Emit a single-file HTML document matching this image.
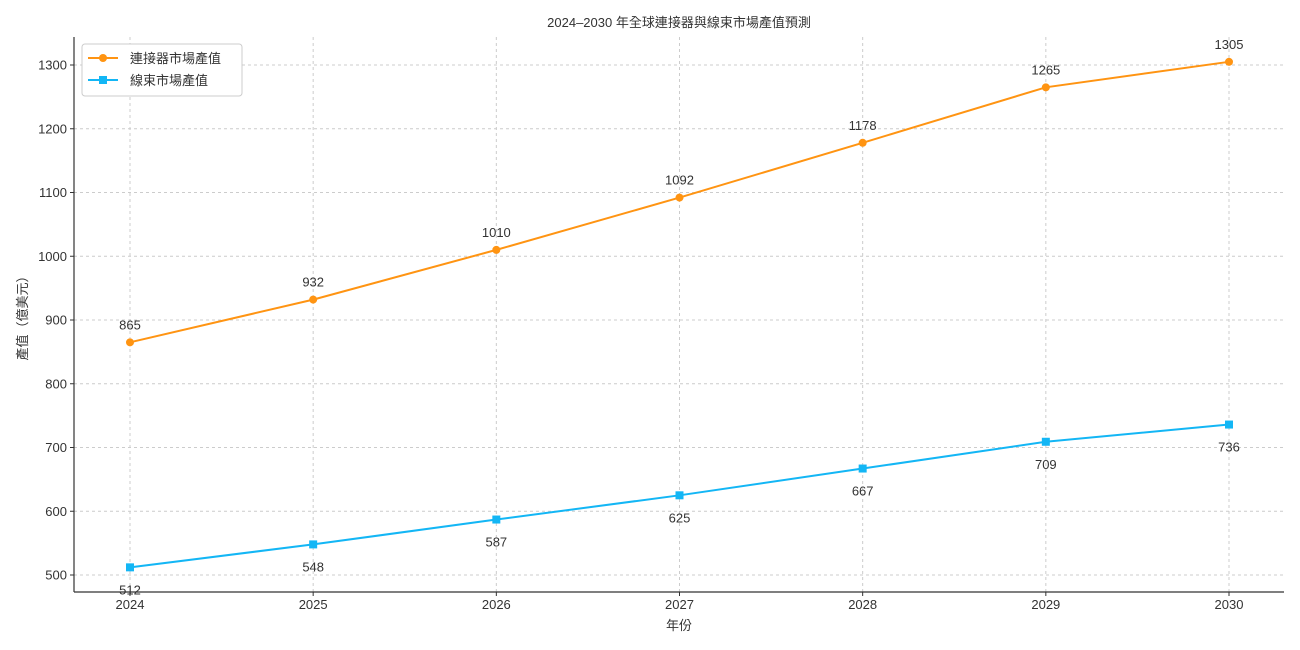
<!DOCTYPE html>
<html><head><meta charset="utf-8"><style>
body{margin:0;background:#fff;}
svg{display:block;font-family:"Liberation Sans","Noto Sans CJK TC",sans-serif;}
</style></head><body>
<svg id="chart" width="1300" height="650">
<text x="679" y="27" font-size="13" text-anchor="middle" fill="#333">2024–2030 年全球連接器與線束市場產值預測</text>
<g id="grid"></g><g id="axes"></g><g id="series"></g>
<text x="679" y="630" font-size="13" text-anchor="middle" fill="#333">年份</text>
<text transform="translate(27,315) rotate(-90)" font-size="13" text-anchor="middle" fill="#333">產值（億美元）</text>
<g>
<rect x="82" y="44" width="160" height="52" fill="#fff" stroke="#ccc" rx="3"/>
<g><line x1="88" y1="58" x2="118" y2="58" stroke="#ff9412" stroke-width="2"/><circle cx="103" cy="58" r="4" fill="#ff9412"/><text x="130" y="63" font-size="13" fill="#333">連接器市場產值</text></g>
<g><line x1="88" y1="80" x2="118" y2="80" stroke="#13b6f5" stroke-width="2"/><rect x="99" y="76" width="8" height="8" fill="#13b6f5"/><text x="130" y="85" font-size="13" fill="#333">線束市場產值</text></g>
</g>
</svg>
<script>
const years=[2024,2025,2026,2027,2028,2029,2030];
const connector=[865,932,1010,1092,1178,1265,1305];
const harness=[512,548,587,625,667,709,736];
const yTicks=[500,600,700,800,900,1000,1100,1200,1300];
const NS="http://www.w3.org/2000/svg";
const xS=i=>130+i*(1229-130)/6;
const yS=v=>575-(v-500)*(575-65)/800;
function mk(tag,attrs,parent,text){const e=document.createElementNS(NS,tag);for(const k in attrs)e.setAttribute(k,attrs[k]);if(text!==undefined)e.textContent=text;parent.appendChild(e);return e;}
const grid=document.getElementById('grid'),axes=document.getElementById('axes'),ser=document.getElementById('series');
years.forEach((y,i)=>{
 const g=mk('line',{x1:xS(i),x2:xS(i),y1:37,y2:592,stroke:'#ccc','stroke-dasharray':'3,3'},grid);
 
 
 mk('line',{x1:xS(i),x2:xS(i),y1:592,y2:596,stroke:'#333'},axes);
 const t=mk('text',{x:xS(i),y:609,'font-size':13,'text-anchor':'middle',fill:'#333'},axes,y);
 
 
});
yTicks.forEach(v=>{
 const g=mk('line',{x1:74,x2:1284,y1:yS(v),y2:yS(v),stroke:'#ccc','stroke-dasharray':'3,3'},grid);
 
 
 mk('line',{x1:70,x2:74,y1:yS(v),y2:yS(v),stroke:'#333'},axes);
 const t=mk('text',{x:67,y:yS(v)+4.5,'font-size':13,'text-anchor':'end',fill:'#333'},axes,v);
 
 
});
mk('line',{x1:74,x2:74,y1:37,y2:592,stroke:'#333','stroke-width':1.2},axes);
mk('line',{x1:74,x2:1284,y1:592,y2:592,stroke:'#333','stroke-width':1.2},axes);
function draw(data,color,name,square,dy){
 const p=mk('polyline',{points:data.map((v,i)=>xS(i)+','+yS(v)).join(' '),fill:'none',stroke:color,'stroke-width':2},ser);
 
 
 data.forEach((v,i)=>{
  let m;
  if(square)m=mk('rect',{x:xS(i)-4,y:yS(v)-4,width:8,height:8,fill:color},ser);
  else m=mk('circle',{cx:xS(i),cy:yS(v),r:4,fill:color},ser);
  
  
  const t=mk('text',{x:xS(i),y:yS(v)+dy,'font-size':13,'text-anchor':'middle',fill:'#333'},ser,v);
  
  
 });
}
draw(connector,'#ff9412','connector',false,-13);
draw(harness,'#13b6f5','harness',true,27);
</script>
</body></html>
